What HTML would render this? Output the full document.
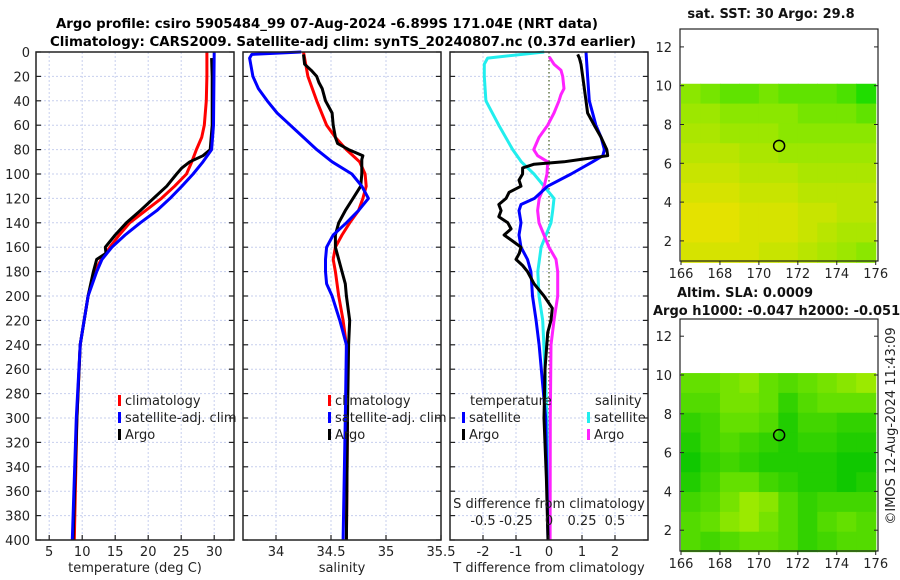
<!DOCTYPE html>
<html><head><meta charset="utf-8">
<style>
html,body{margin:0;padding:0;background:#fff;}
svg{display:block;font-family:"DejaVu Sans","Liberation Sans",sans-serif;}
</style></head>
<body>
<svg id="fig" width="900" height="580" viewBox="0 0 900 580" xmlns="http://www.w3.org/2000/svg">
<rect x="0" y="0" width="900" height="580" fill="#fff"/>
<text x="327" y="28" text-anchor="middle" font-size="13" font-weight="bold" textLength="542" lengthAdjust="spacingAndGlyphs">Argo profile: csiro 5905484_99 07-Aug-2024 -6.899S 171.04E (NRT data)</text>
<text x="343" y="46" text-anchor="middle" font-size="13" font-weight="bold" textLength="586" lengthAdjust="spacingAndGlyphs">Climatology: CARS2009. Satellite-adj clim: synTS_20240807.nc (0.37d earlier)</text>
<g id="plots"></g>
</svg>
<script>
// ---------- profile data ----------
const depthTclim = [0,20,40,60,70,80,90,100,110,120,130,140,150,160,170,180,200,240,300,400];
const tempClim   = [28.9,28.9,28.8,28.5,28.1,27.3,26.6,25.8,24.0,22.0,19.6,17.2,15.6,14.2,12.9,11.9,10.9,9.7,9.2,8.8];
const depthTsat  = [0,60,80,90,100,110,120,130,140,150,160,170,180,200,240,300,400];
const tempSat    = [30.0,29.9,29.6,28.3,26.8,25.1,23.3,21.3,18.8,16.5,14.5,13.0,12.2,10.9,9.7,9.1,8.5];
const depthTargo = [5,20,60,80,85,90,95,100,110,120,130,140,150,160,165,170,180,200,240,300,400];
const tempArgo   = [29.6,29.7,29.7,29.4,28.3,26.3,25.1,24.3,22.8,20.8,18.8,16.7,15.0,13.5,13.6,12.2,11.7,10.9,9.7,9.2,8.6];

const depthSclim = [0,20,40,60,70,80,90,100,110,120,130,140,150,160,170,180,200,220,240,300,400];
const salClim    = [34.25,34.29,34.37,34.46,34.54,34.64,34.76,34.81,34.82,34.79,34.75,34.67,34.60,34.54,34.52,34.54,34.57,34.61,34.64,34.65,34.64];
const depthSsat  = [0,2,5,20,30,40,50,60,70,80,90,100,110,120,130,140,150,160,170,180,190,200,220,240,300,400];
const salSat     = [34.23,33.78,33.76,33.79,33.84,33.92,34.01,34.13,34.25,34.37,34.51,34.69,34.78,34.84,34.75,34.64,34.52,34.46,34.45,34.45,34.46,34.51,34.58,34.64,34.63,34.61];
const depthSargo = [2,10,15,20,25,30,40,45,50,60,70,75,80,85,88,100,110,120,130,140,150,160,170,180,190,200,220,240,300,400];
const salArgo    = [34.25,34.26,34.32,34.37,34.39,34.42,34.45,34.48,34.51,34.52,34.54,34.56,34.66,34.79,34.78,34.78,34.77,34.70,34.63,34.57,34.54,34.54,34.57,34.60,34.63,34.64,34.67,34.66,34.65,34.64];

const depthSdSat = [0,5,10,20,40,60,80,90,100,110,120,130,140,150,160,180,200,220,260,300,400];
const sDiffSat   = [-0.036,-0.465,-0.49,-0.49,-0.478,-0.38,-0.275,-0.21,-0.114,-0.038,0.038,0.028,0.015,-0.023,-0.06,-0.085,-0.076,-0.048,-0.03,-0.015,0.0];
const depthSdArgo= [4,10,15,20,30,35,40,50,60,70,80,85,90,100,110,120,130,140,150,160,170,180,200,220,240,300,400];
const sDiffArgo  = [0.002,0.038,0.091,0.104,0.114,0.09,0.076,0.038,-0.01,-0.076,-0.116,-0.086,-0.01,-0.015,-0.036,-0.074,-0.086,-0.076,-0.038,0.0,0.053,0.066,0.066,0.038,0.015,0.01,0.008];
const depthTdSat = [0,20,40,60,70,80,85,90,100,110,120,125,130,140,150,160,170,180,200,220,240,300,400];
const tDiffSat   = [1.12,1.17,1.22,1.42,1.58,1.68,1.63,1.32,0.67,-0.04,-0.44,-0.85,-0.91,-0.85,-0.91,-0.85,-0.65,-0.55,-0.5,-0.39,-0.3,-0.1,-0.03];
const depthTdArgo= [2,5,10,20,40,50,60,70,80,85,88,90,92,95,100,105,110,115,120,125,130,135,140,145,150,155,160,165,170,175,180,190,200,210,220,230,260,300,350,400];
const tDiffArgo  = [0.87,0.92,0.97,1.02,1.12,1.17,1.37,1.58,1.75,1.78,0.97,0.45,-0.45,-0.8,-0.8,-0.91,-0.85,-1.21,-1.3,-1.52,-1.45,-1.52,-1.25,-1.15,-1.36,-1.1,-0.85,-0.9,-1.0,-0.8,-0.65,-0.45,-0.15,0.1,0.06,-0.04,-0.12,-0.15,-0.08,-0.03];

const depthTicks = [0,20,40,60,80,100,120,140,160,180,200,220,240,260,280,300,320,340,360,380,400];
const tempTicks = [5,10,15,20,25,30];
const salTicks = ["34","34.5","35","35.5"];
const tDiffTicks = [-2,-1,0,1,2];
const sDiffTicks = ["-0.5","-0.25","0","0.25","0.5"];

// ---------- map data (rows lat 10.1 -> 0.9, cols lon 166 -> 176) ----------
const sstTitle = "sat. SST: 30 Argo: 29.8";
const sstGrid = [
 [29.8,29.7,29.6,29.6,29.7,29.6,29.6,29.6,29.5,29.3],
 [29.9,29.9,29.8,29.8,29.8,29.8,29.7,29.7,29.7,29.6],
 [30.0,30.0,29.9,29.9,29.9,29.8,29.8,29.8,29.8,29.8],
 [30.1,30.1,30.1,30.0,30.0,29.9,29.9,29.9,29.9,29.9],
 [30.2,30.2,30.2,30.1,30.1,30.1,30.0,30.0,30.0,30.0],
 [30.3,30.3,30.3,30.2,30.2,30.2,30.1,30.1,30.1,30.1],
 [30.4,30.4,30.4,30.3,30.3,30.3,30.2,30.2,30.1,30.1],
 [30.4,30.4,30.4,30.3,30.3,30.3,30.2,30.1,30.0,30.0],
 [30.3,30.3,30.3,30.3,30.2,30.2,30.1,30.0,29.9,29.8]
];
const slaGrid = [
 [0.5,0.5,0.6,0.7,0.5,0.4,0.5,0.6,0.7,0.8],
 [0.4,0.4,0.6,0.6,0.5,0.2,0.4,0.5,0.5,0.5],
 [0.2,0.3,0.5,0.5,0.4,0.1,0.3,0.3,0.2,0.2],
 [0.1,0.3,0.4,0.3,0.2,0.1,0.2,0.2,0.1,0.1],
 [0.0,0.2,0.3,0.2,0.1,0.1,0.1,0.1,0.0,0.0],
 [0.1,0.3,0.5,0.5,0.3,0.2,0.1,0.1,0.0,0.1],
 [0.3,0.4,0.6,0.8,0.7,0.4,0.2,0.3,0.3,0.3],
 [0.4,0.5,0.7,0.8,0.6,0.4,0.2,0.4,0.5,0.4],
 [0.4,0.3,0.4,0.5,0.5,0.4,0.2,0.3,0.4,0.4]
];
const lonTicks = [166,168,170,172,174,176];
const latTicks = [2,4,6,8,10,12];
const argoLon = 171.04;
const argoLat = 6.9;

// ---------- drawing ----------
const NS = "http://www.w3.org/2000/svg";
const root = document.getElementById('plots');
function mk(tag, attrs, parent){
  const e = document.createElementNS(NS, tag);
  for (const k in attrs) e.setAttribute(k, attrs[k]);
  (parent||root).appendChild(e);
  return e;
}
function txt(s, x, y, opts, parent){
  const e = mk('text', Object.assign({x:x, y:y, 'font-size':13, fill:'#222'}, opts||{}), parent);
  e.textContent = s;
  return e;
}
const TOP = 52, BOT = 540;
const yD = d => TOP + (d/400)*(BOT-TOP);

function panel(name, x0, x1, vmin, vmax){
  const g = mk('g', {});
  
  
  const xs = v => x0 + (v - vmin)/(vmax - vmin)*(x1 - x0);
  return {g, xs, x0, x1};
}
function grid(p, xvals){
  xvals.forEach(v=>{
    const l = mk('line',{x1:p.xs(v),x2:p.xs(v),y1:TOP,y2:BOT,stroke:'#c7cfee','stroke-width':1,'stroke-dasharray':'2,2'},p.g);
    
    
  });
  depthTicks.forEach(d=>{
    if(d===0||d===400) return;
    const l = mk('line',{x1:p.x0,x2:p.x1,y1:yD(d),y2:yD(d),stroke:'#c7cfee','stroke-width':1,'stroke-dasharray':'2,2'},p.g);
    
    
  });
}
function frame(p, xvals){
  depthTicks.forEach(d=>{
    mk('line',{x1:p.x0,x2:p.x0+5,y1:yD(d),y2:yD(d),stroke:'#222','stroke-width':1.2},p.g);
    mk('line',{x1:p.x1,x2:p.x1-5,y1:yD(d),y2:yD(d),stroke:'#222','stroke-width':1.2},p.g);
  });
  xvals.forEach(v=>{
    mk('line',{x1:p.xs(v),x2:p.xs(v),y1:BOT,y2:BOT-5,stroke:'#222','stroke-width':1.2},p.g);
  });
  const r = mk('rect',{x:p.x0,y:TOP,width:p.x1-p.x0,height:BOT-TOP,fill:'none',stroke:'#222','stroke-width':1.5},p.g);
  
  
}
function line(p, xv, dv, color, name){
  const pts = xv.map((v,i)=> p.xs(v).toFixed(1)+','+yD(dv[i]).toFixed(1)).join(' ');
  const l = mk('polyline',{points:pts,fill:'none',stroke:color,'stroke-width':3,'stroke-linejoin':'round'},p.g);
  
  
}
function legendEntry(p, x, y, color, label, name){
  const g = mk('g',{},p.g);
  
  
  mk('rect',{x:x,y:y-10,width:3,height:11,fill:color},g);
  txt(label, x+7, y, {}, g);
}

// Panel 1: temperature
const p1 = panel('temperature-panel', 36, 234, 3, 33);
grid(p1, tempTicks);
line(p1, tempClim, depthTclim, '#ff0000', 'temp-climatology-line');
line(p1, tempArgo, depthTargo, '#000000', 'temp-argo-line');
line(p1, tempSat, depthTsat, '#0000ff', 'temp-satellite-line');
frame(p1, tempTicks);
depthTicks.forEach(d=>{
  const t = txt(String(d), 30, yD(d)+5, {'text-anchor':'end'});
  
  
});
tempTicks.forEach(v=>{
  const t = txt(String(v), p1.xs(v), 556, {'text-anchor':'middle'});
  
  
});
{const t = txt('temperature (deg C)', 135, 572, {'text-anchor':'middle'});

}
legendEntry(p1, 118, 405, '#ff0000', 'climatology', 'legend-climatology');
legendEntry(p1, 118, 422, '#0000ff', 'satellite-adj. clim', 'legend-satellite-adj');
legendEntry(p1, 118, 439, '#000000', 'Argo', 'legend-argo');

// Panel 2: salinity
const p2 = panel('salinity-panel', 243, 441, 33.7, 35.5);
const salVals = salTicks.map(Number);
grid(p2, salVals);
line(p2, salClim, depthSclim, '#ff0000', 'sal-climatology-line');
line(p2, salArgo, depthSargo, '#000000', 'sal-argo-line');
line(p2, salSat, depthSsat, '#0000ff', 'sal-satellite-line');
frame(p2, salVals);
salTicks.forEach((s,i)=>{
  const t = txt(s, p2.xs(salVals[i]), 556, {'text-anchor':'middle'});
  
  
});
{const t = txt('salinity', 342, 572, {'text-anchor':'middle'});

}
legendEntry(p2, 328, 405, '#ff0000', 'climatology', 'legend-climatology');
legendEntry(p2, 328, 422, '#0000ff', 'satellite-adj. clim', 'legend-satellite-adj');
legendEntry(p2, 328, 439, '#000000', 'Argo', 'legend-argo');

// Panel 3: differences
const p3 = panel('difference-panel', 450, 648, -3, 3);
const xsS = v => p3.xs(v*4);
grid(p3, tDiffTicks);
{const z = mk('line',{x1:p3.xs(0),x2:p3.xs(0),y1:TOP,y2:BOT,stroke:'#556b2f','stroke-width':1.3,'stroke-dasharray':'1.5,2.5'},p3.g);

}
line({g:p3.g, xs:v=>xsS(v)}, sDiffSat, depthSdSat, '#22eeee', 'sdiff-satellite-line');
line({g:p3.g, xs:v=>xsS(v)}, sDiffArgo, depthSdArgo, '#ff22ff', 'sdiff-argo-line');
line(p3, tDiffSat, depthTdSat, '#0000ff', 'tdiff-satellite-line');
line(p3, tDiffArgo, depthTdArgo, '#000000', 'tdiff-argo-line');
frame(p3, tDiffTicks);
tDiffTicks.forEach(v=>{
  const t = txt(String(v), p3.xs(v), 556, {'text-anchor':'middle'});
  
  
});
sDiffTicks.forEach(s=>{
  const t = txt(s, xsS(Number(s)), 525, {'text-anchor':'middle'});
  
  
});
{const t = txt('S difference from climatology', 549, 508, {'text-anchor':'middle'});


const t2 = txt('T difference from climatology', 549, 572, {'text-anchor':'middle'});

}
txt('temperature', 470, 405, {}, p3.g);
txt('salinity', 595, 405, {}, p3.g);
legendEntry(p3, 462, 422, '#0000ff', 'satellite', 'legend-t-satellite');
legendEntry(p3, 462, 439, '#000000', 'Argo', 'legend-t-argo');
legendEntry(p3, 587, 422, '#22eeee', 'satellite', 'legend-s-satellite');
legendEntry(p3, 587, 439, '#ff22ff', 'Argo', 'legend-s-argo');

// ---------- maps ----------
function lerpC(c1,c2,t){return c1.map((v,i)=>Math.round(v+(c2[i]-v)*t));}
function cmap(t, stops){
  t = Math.max(0, Math.min(1, t));
  const n = stops.length-1, i = Math.min(n-1, Math.floor(t*n));
  const c = lerpC(stops[i], stops[i+1], t*n - i);
  return 'rgb('+c.join(',')+')';
}
function drawMap(name, top, bottom, lat10y, grid, vmin, vmax, stops){
  const g = mk('g',{});
  
  
  const X = lon => 681 + (lon-166)*19.47;
  const Y = lat => lat10y - (lat-10)*19.4;
  const rows = grid.length, cols = grid[0].length;
  const latTop = 10.1, latBot = 0.9;
  const dLat = (latTop-latBot)/rows, dLon = 10/cols;
  grid.forEach((row,r)=>row.forEach((v,c)=>{
    const x = X(166 + c*dLon), y = Y(latTop - r*dLat);
    const cell = mk('rect',{x:x.toFixed(2), y:y.toFixed(2), width:(dLon*19.47+0.6).toFixed(2), height:(dLat*19.4+0.6).toFixed(2), fill:cmap((v-vmin)/(vmax-vmin), stops)}, g);
    
    
  }));
  const circ = mk('circle',{cx:X(argoLon), cy:Y(argoLat), r:5.5, fill:'none', stroke:'#000','stroke-width':1.5}, g);
  
  
  latTicks.forEach(l=>{
    mk('line',{x1:680,x2:684,y1:Y(l),y2:Y(l),stroke:'#222'},g);
    mk('line',{x1:878,x2:874,y1:Y(l),y2:Y(l),stroke:'#222'},g);
    const t = txt(String(l), 672, Y(l)+5, {'text-anchor':'end'}, g);
    
    
  });
  lonTicks.forEach(l=>{
    mk('line',{x1:X(l),x2:X(l),y1:bottom,y2:bottom+4,stroke:'#222'},g);
    const t = txt(String(l), X(l), bottom+17, {'text-anchor':'middle'}, g);
    
    
  });
  const fr = mk('rect',{x:680,y:top,width:198,height:bottom-top,fill:'none',stroke:'#222','stroke-width':1.2},g);
  
  
}
drawMap('sst-map', 29, 261, 85.7, sstGrid, 29.3, 30.4, [[32,221,0],[150,232,0],[228,226,0]]);
drawMap('sla-map', 319, 551, 375, slaGrid, 0, 1, [[16,200,0],[100,224,0],[192,240,0]]);
{const t = txt(sstTitle, 771, 18, {'text-anchor':'middle','font-weight':'bold','fill':'#111'});


const t2 = txt('Altim. SLA: 0.0009', 745, 297, {'text-anchor':'middle','font-weight':'bold','fill':'#111'});


const t3 = txt('Argo h1000: -0.047 h2000: -0.051', 653, 315, {'font-weight':'bold','fill':'#111'});


const t4 = txt('©IMOS 12-Aug-2024 11:43:09', 0, 0, {'text-anchor':'middle','transform':'translate(895,426) rotate(-90)'});

}
</script>
</body></html>
